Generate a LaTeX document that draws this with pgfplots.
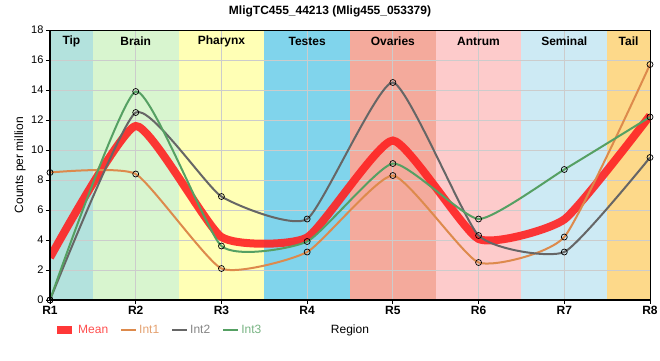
\documentclass[border=0pt]{standalone}
\usepackage{pgfplots}
\pgfplotsset{compat=1.18}
\usepackage{fontspec}
\setmainfont{Liberation Sans}
\definecolor{cTip}{HTML}{B3E2DD}
\definecolor{cBrain}{HTML}{D8F5CF}
\definecolor{cPharynx}{HTML}{FFFFB5}
\definecolor{cTestes}{HTML}{80D4EC}
\definecolor{cOvaries}{HTML}{F4AA9C}
\definecolor{cAntrum}{HTML}{FDCBCB}
\definecolor{cSeminal}{HTML}{CDEAF4}
\definecolor{cTail}{HTML}{FDD98A}
\definecolor{cMean}{HTML}{FF2222}
\definecolor{cInt1}{HTML}{DD8A4C}
\definecolor{cInt2}{HTML}{666666}
\definecolor{cInt3}{HTML}{55A063}
\definecolor{gridc}{HTML}{CCCCCC}
\begin{document}
\begin{tikzpicture}
\begin{axis}[
  set layers=standard,
  at={(50pt,60pt)}, anchor=south west,
  scale only axis, width=600pt, height=270pt,
  xmin=0, xmax=7, ymin=0, ymax=18,
  xtick={0,...,7}, xticklabels={R1,R2,R3,R4,R5,R6,R7,R8},
  ytick={0,2,...,18},
  xtick pos=bottom, ytick pos=left,
  grid=major, grid style={color=gridc, line width=0.8pt},
  axis line style={line width=0.8pt},
  tick align=outside, major tick length=4pt,
  tick style={black, line width=0.8pt},
  tick label style={font=\fontsize{11}{12}\selectfont},
  yticklabel style={xshift=1pt},
  xticklabel style={font=\fontsize{12}{13}\selectfont\bfseries, yshift=1pt},
  /pgf/number format/assume math mode=true,
  title={MligTC455\_44213 (Mlig455\_053379)},
  title style={font=\fontsize{12}{14}\selectfont\bfseries, at={(axis description cs:0.4667,1)}, anchor=center, yshift=13pt},
  ylabel={Counts per million},
  ylabel style={font=\fontsize{12}{14}\selectfont, at={([xshift=-30pt]axis description cs:0,0.5)}, anchor=center},
  xlabel={Region},
  xlabel style={font=\fontsize{12}{14}\selectfont, at={([yshift=-30pt]axis description cs:0.5,0)}, anchor=center},
  legend style={at={([yshift=-30pt]axis description cs:0,0)}, anchor=west, draw=none, fill=none,
    font=\fontsize{12}{14}\selectfont, legend columns=-1,
    /tikz/every even column/.append style={column sep=10pt}},
  legend image code/.code={\draw[#1, mark=none] (0pt,0pt) -- (15pt,0pt);},
  every axis plot/.append style={mark options={solid, draw=black, fill=white, line width=0.7pt}},
]
% region bands
\begin{pgfonlayer}{axis background}
\fill[cTip] (axis cs:0,0) rectangle (axis cs:0.5,18);
\fill[cBrain] (axis cs:0.5,0) rectangle (axis cs:1.5,18);
\fill[cPharynx] (axis cs:1.5,0) rectangle (axis cs:2.5,18);
\fill[cTestes] (axis cs:2.5,0) rectangle (axis cs:3.5,18);
\fill[cOvaries] (axis cs:3.5,0) rectangle (axis cs:4.5,18);
\fill[cAntrum] (axis cs:4.5,0) rectangle (axis cs:5.5,18);
\fill[cSeminal] (axis cs:5.5,0) rectangle (axis cs:6.5,18);
\fill[cTail] (axis cs:6.5,0) rectangle (axis cs:7,18);
\end{pgfonlayer}
\node[font=\fontsize{12}{14}\selectfont\bfseries] at (axis cs:0.25,17.25) {Tip};
\node[font=\fontsize{12}{14}\selectfont\bfseries] at (axis cs:1,17.25) {Brain};
\node[font=\fontsize{12}{14}\selectfont\bfseries] at (axis cs:2,17.25) {Pharynx};
\node[font=\fontsize{12}{14}\selectfont\bfseries] at (axis cs:3,17.25) {Testes};
\node[font=\fontsize{12}{14}\selectfont\bfseries] at (axis cs:4,17.25) {Ovaries};
\node[font=\fontsize{12}{14}\selectfont\bfseries] at (axis cs:5,17.25) {Antrum};
\node[font=\fontsize{12}{14}\selectfont\bfseries] at (axis cs:6,17.25) {Seminal};
\node[font=\fontsize{12}{14}\selectfont\bfseries] at (axis cs:6.75,17.25) {Tail};
% series
\addplot[cMean, line width=8pt, opacity=0.9, smooth, tension=0.3, mark=none] coordinates {
(0,2.83) (1,11.6) (2,4.2) (3,4.17) (4,10.63) (5,4.07) (6,5.37) (7,12.3)};
\addlegendentry{\textcolor{cMean!80!white}{Mean}}
\addplot[cInt1, line width=2pt, smooth, tension=0.3, mark=o, mark size=3pt] coordinates {
(0,8.5) (1,8.4) (2,2.1) (3,3.2) (4,8.3) (5,2.5) (6,4.2) (7,15.7)};
\addlegendentry{\textcolor{cInt1!80!white}{Int1}}
\addplot[cInt2, line width=2pt, smooth, tension=0.3, mark=o, mark size=3pt] coordinates {
(0,0) (1,12.5) (2,6.9) (3,5.4) (4,14.5) (5,4.3) (6,3.2) (7,9.5)};
\addlegendentry{\textcolor{cInt2!80!white}{Int2}}
\addplot[cInt3, line width=2pt, smooth, tension=0.3, mark=o, mark size=3pt] coordinates {
(0,0) (1,13.9) (2,3.6) (3,3.9) (4,9.1) (5,5.4) (6,8.7) (7,12.2)};
\addlegendentry{\textcolor{cInt3!80!white}{Int3}}
\end{axis}
\draw[line width=2pt] (50pt,59pt) -- (50pt,330pt);
\draw[line width=2pt] (49pt,60pt) -- (650pt,60pt);
\pgfresetboundingbox
\path (0,0) rectangle (660pt,360pt);
\end{tikzpicture}
\end{document}
